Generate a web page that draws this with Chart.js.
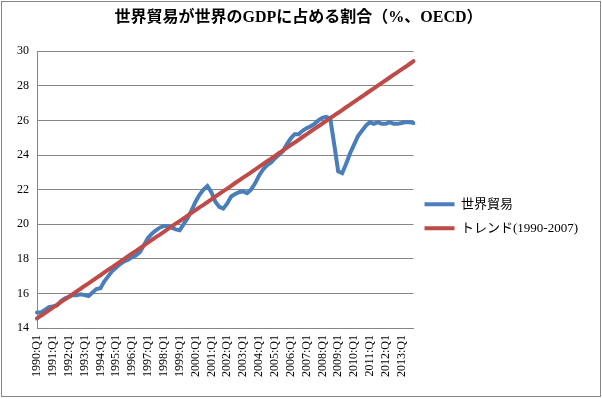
<!DOCTYPE html>
<html>
<head>
<meta charset="utf-8">
<script src="https://cdn.jsdelivr.net/npm/chart.js@4"></script>
<style>
  html, body { margin: 0; padding: 0; background: #fff; }
  #wrap { width: 602px; height: 399px; }
</style>
</head>
<body>
<div id="wrap"><canvas id="tradeChart" width="602" height="399"></canvas></div>
<script>
const years = [];
for (let y = 1990; y <= 2013; y++) years.push(y);
const quarters = ['Q1', 'Q2', 'Q3', 'Q4'];

// 世界貿易（GDP比、%）1990:Q1 - 2013:Q4
const worldTrade = [
  14.9, 14.9, 15.05, 15.2, 15.25, 15.3, 15.55, 15.7,
  15.8, 15.9, 15.9, 15.95, 15.9, 15.85, 16.05, 16.25,
  16.3, 16.7, 17.0, 17.3, 17.5, 17.7, 17.85, 17.95,
  18.1, 18.2, 18.4, 18.8, 19.2, 19.45, 19.65, 19.8,
  19.9, 19.9, 19.8, 19.7, 19.65, 20.0, 20.35, 20.8,
  21.3, 21.7, 22.0, 22.2, 21.85, 21.3, 21.0, 20.9,
  21.2, 21.6, 21.75, 21.85, 21.9, 21.8, 22.0, 22.35,
  22.8, 23.15, 23.4, 23.55, 23.8, 24.0, 24.2, 24.6,
  24.95, 25.2, 25.2, 25.4, 25.55, 25.65, 25.8, 26.0,
  26.15, 26.2, 26.1, 24.6, 23.05, 22.95, 23.5, 24.1,
  24.6, 25.1, 25.4, 25.7, 25.9, 25.8, 25.9, 25.8,
  25.8, 25.9, 25.8, 25.8, 25.85, 25.9, 25.9, 25.85
];

// トレンド（1990-2007）
const trend = [
  14.55, 14.71, 14.86, 15.02, 15.18, 15.33, 15.49, 15.65,
  15.80, 15.96, 16.12, 16.27, 16.43, 16.58, 16.74, 16.90,
  17.05, 17.21, 17.37, 17.52, 17.68, 17.84, 17.99, 18.15,
  18.31, 18.46, 18.62, 18.78, 18.93, 19.09, 19.25, 19.40,
  19.56, 19.71, 19.87, 20.03, 20.18, 20.34, 20.50, 20.65,
  20.81, 20.97, 21.12, 21.28, 21.44, 21.59, 21.75, 21.91,
  22.06, 22.22, 22.38, 22.53, 22.69, 22.84, 23.00, 23.16,
  23.31, 23.47, 23.63, 23.78, 23.94, 24.10, 24.25, 24.41,
  24.57, 24.72, 24.88, 25.04, 25.19, 25.35, 25.51, 25.66,
  25.82, 25.97, 26.13, 26.29, 26.44, 26.60, 26.76, 26.91,
  27.07, 27.23, 27.38, 27.54, 27.70, 27.85, 28.01, 28.17,
  28.32, 28.48, 28.64, 28.79, 28.95, 29.10, 29.26, 29.42
];

const labels = [];
years.forEach(y => quarters.forEach(q => labels.push(y + ':' + q)));

const serifFont = "'Liberation Serif', 'Noto Sans CJK JP', serif";

const frame = {
  id: 'frame',
  beforeDraw(chart) {
    const ctx = chart.ctx;
    ctx.save();
    ctx.fillStyle = '#fff';
    ctx.fillRect(0, 0, chart.width, chart.height);
    ctx.strokeStyle = '#868686';
    ctx.lineWidth = 1;
    ctx.strokeRect(1.5, 1.5, chart.width - 3, chart.height - 4);
    ctx.restore();
  }
};

new Chart(document.getElementById('tradeChart'), {
  type: 'line',
  data: {
    labels: labels,
    datasets: [
      {
        label: '世界貿易',
        data: worldTrade,
        borderColor: '#4a7ebb',
        backgroundColor: '#4a7ebb',
        borderWidth: 4,
        borderCapStyle: 'round',
        pointRadius: 0,
        tension: 0,
        order: 1
      },
      {
        label: 'トレンド(1990-2007)',
        data: trend,
        borderColor: '#be4b48',
        backgroundColor: '#be4b48',
        borderWidth: 4,
        borderCapStyle: 'round',
        pointRadius: 0,
        tension: 0,
        order: 0
      }
    ]
  },
  options: {
    responsive: false,
    animation: false,
    layout: { padding: { left: 9, right: 14, top: 4, bottom: 15 } },
    scales: {
      x: {
        grid: { display: false, drawTicks: false },
        border: { color: '#868686' },
        ticks: {
          autoSkip: false,
          maxRotation: 90,
          minRotation: 90,
          padding: 7,
          color: '#000',
          font: { family: serifFont, size: 12 },
          callback: (value, index) => (index % 4 === 0 ? labels[index] : '')
        }
      },
      y: {
        min: 14,
        max: 30,
        grid: { color: '#868686', drawTicks: false },
        border: { color: '#868686' },
        ticks: {
          stepSize: 2,
          padding: 8,
          color: '#000',
          font: { family: serifFont, size: 12 }
        }
      }
    },
    plugins: {
      title: {
        display: true,
        text: '世界貿易が世界のGDPに占める割合（%、OECD）',
        color: '#000',
        font: { family: serifFont, size: 16, weight: 'bold' },
        padding: { top: 4, bottom: 24 }
      },
      legend: {
        position: 'right',
        maxWidth: 220,
        title: { display: true, text: ' ', padding: 15, font: { size: 12 } },
        labels: {
          usePointStyle: true,
          pointStyle: 'line',
          pointStyleWidth: 30,
          color: '#000',
          font: { family: "'Liberation Serif', 'Noto Sans CJK JP', sans-serif", size: 13 },
          padding: 11,
          sort: (a, b) => a.datasetIndex - b.datasetIndex
        }
      },
      tooltip: { enabled: false }
    }
  },
  plugins: [frame]
});
</script>
</body>
</html>
